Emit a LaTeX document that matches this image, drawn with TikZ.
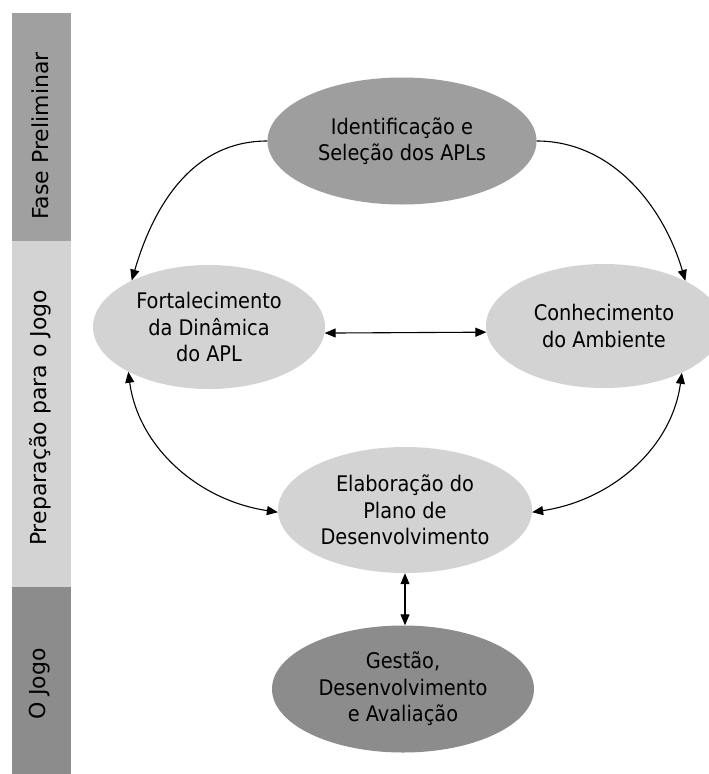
\documentclass[tikz,border=0pt]{standalone}
\usepackage{fontspec}
\setmainfont{DejaVu Sans Condensed}
\newfontfamily\sidefont{DejaVu Sans}
\usetikzlibrary{shapes.geometric,arrows.meta}
\definecolor{bandtop}{HTML}{A0A0A0}
\definecolor{bandmid}{HTML}{D3D3D3}
\definecolor{bandbot}{HTML}{8C8C8C}
\definecolor{elldark}{HTML}{9E9E9E}
\definecolor{elllight}{HTML}{D3D3D3}
\definecolor{elldeep}{HTML}{8C8C8C}
\tikzset{
  bubble/.style={ellipse, draw=none, inner sep=0pt, align=center, text=black,
    font=\fontsize{21.5}{26.5}\selectfont},
  band/.style={draw=none},
  bandtext/.style={rotate=90, font=\sidefont\fontsize{22}{26}\selectfont, text=black, inner sep=0pt},
  conn/.style={line width=1.1pt, -{Triangle[length=11pt,width=9pt]}},
  dconn/.style={line width=1.1pt, {Triangle[length=11pt,width=9pt]}-{Triangle[length=11pt,width=9pt]}}
}
\begin{document}
\begin{tikzpicture}[x=1pt,y=-1pt]
\clip (0,0) rectangle (709,774);
\fill[white] (0,0) rectangle (709,774);

% side bands
\fill[band, bandtop] (12,13) rectangle (71,241);
\fill[band, bandmid] (12,241) rectangle (71,587);
\fill[band, bandbot] (12,587) rectangle (71,774);
\node[bandtext] (b1) at (40,136) {Fase Preliminar};
\node[bandtext] (b2) at (40,418) {Preparação para o Jogo};
\node[bandtext] (b3) at (40,684) {O Jogo};

% ellipses
\node[bubble, fill=elldark, minimum width=269pt, minimum height=127pt] (T) at (402,141)
  {Identificação e\\Seleção dos APLs};
\node[bubble, fill=elllight, minimum width=232pt, minimum height=124pt] (L) at (209,327)
  {Fortalecimento\\da Dinâmica\\do APL};
\node[bubble, fill=elllight, minimum width=236pt, minimum height=124pt] (R) at (604,326)
  {Conhecimento\\do Ambiente};
\node[bubble, fill=elllight, minimum width=254pt, minimum height=126pt] (M) at (405,510)
  {Elaboração do\\Plano de\\Desenvolvimento};
\node[bubble, fill=elldeep, minimum width=262pt, minimum height=127pt] (G) at (403,689)
  {Gestão,\\Desenvolvimento\\e Avaliação};

% connectors
\draw[conn] (T.west) .. controls +(-75,0) and +(22,-75) .. (L.149);
\draw[conn] (T.east) .. controls +(75,0) and +(-22,-75) .. (R.29);
\draw[dconn] (L.-3) -- (R.183);
\draw[dconn] (L.209) .. controls +(10,75) and +(-80,-12) .. (M.181);
\draw[dconn] (R.-31.5) .. controls +(-10,75) and +(80,-12) .. (M.-1);
\draw[dconn] (M.south) -- (M.south |- G.north);
\end{tikzpicture}
\end{document}
